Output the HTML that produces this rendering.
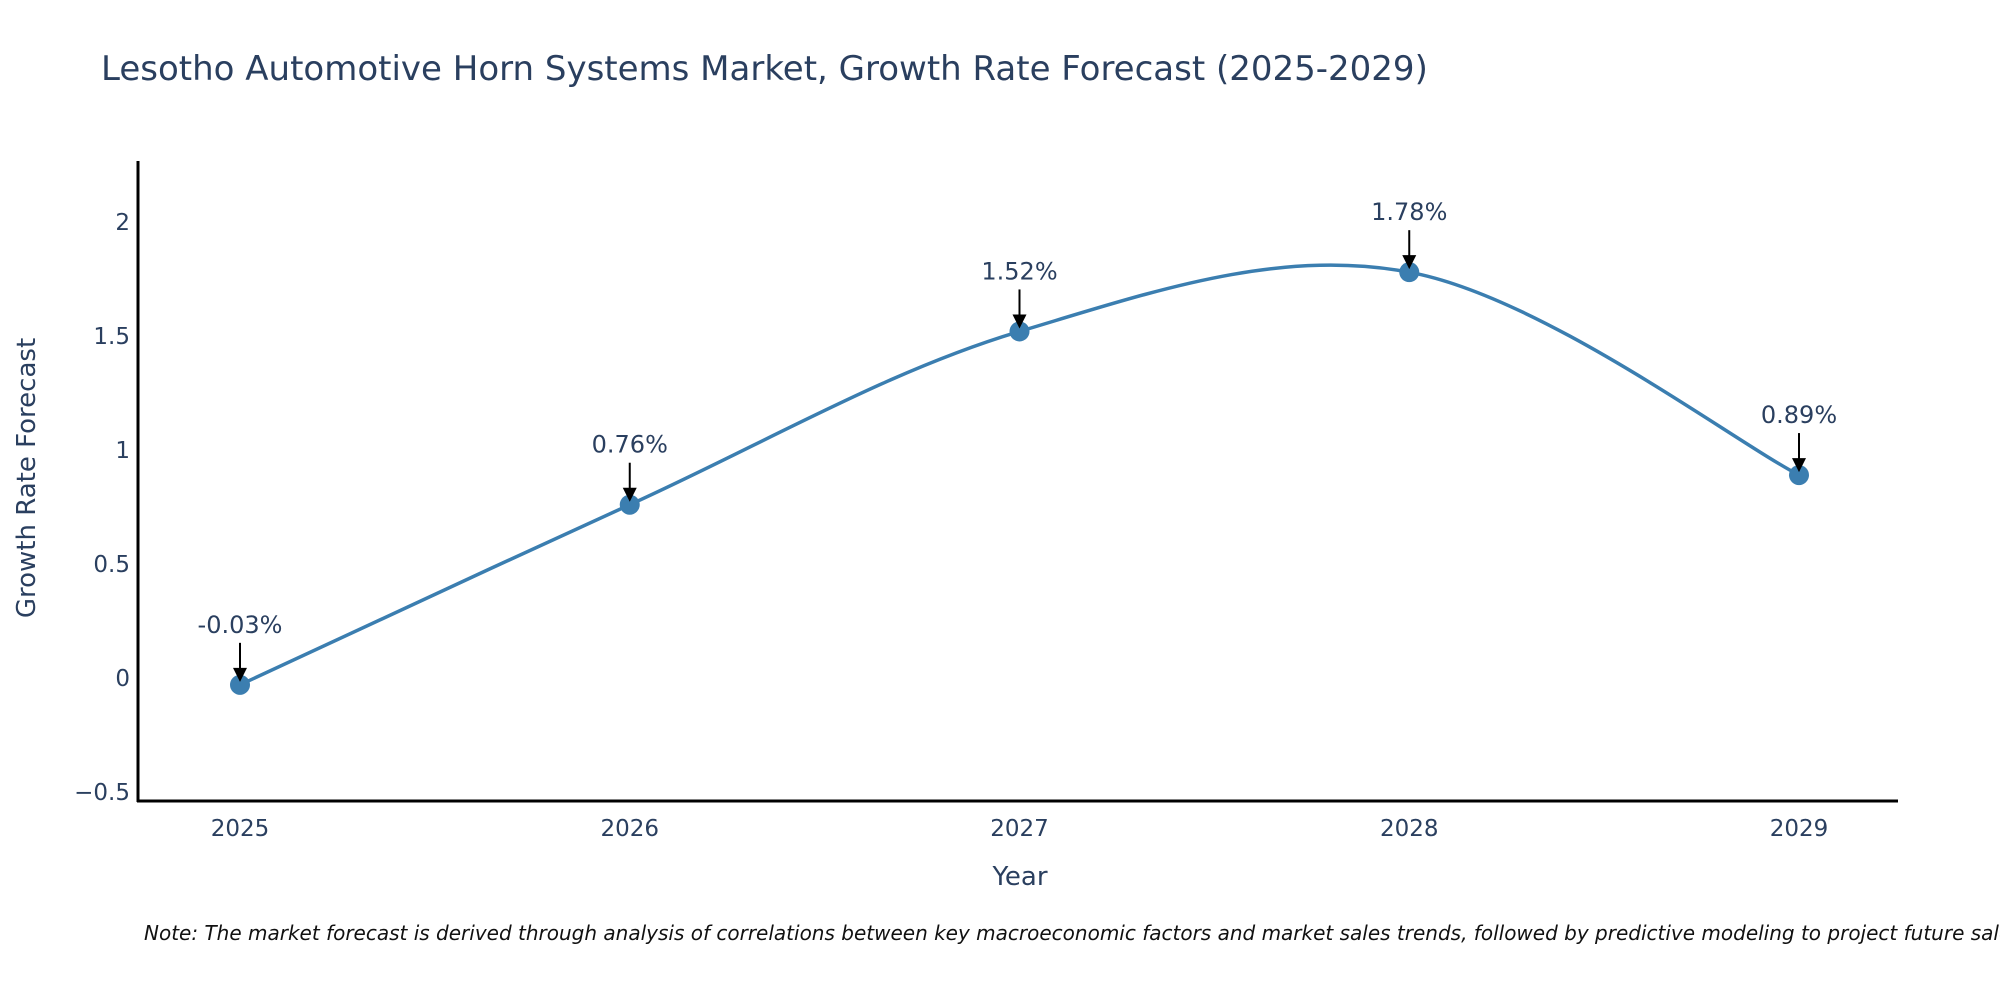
<!DOCTYPE html>
<html><head><meta charset="utf-8"><style>
body{margin:0;background:#fff;}
svg{display:block;font-family:"DejaVu Sans","Liberation Sans",sans-serif;}
</style></head><body>
<svg id="chart" width="2000" height="1000">
<text x="101" y="80" font-size="34" fill="#2a3f5f">Lesotho Automotive Horn Systems Market, Growth Rate Forecast (2025-2029)</text>
<g id="yticks"></g><g id="xticks"></g>
<path id="line" fill="none" stroke="#3b7eb0" stroke-width="3.5"/>
<g id="marks"></g>
<line x1="138" y1="161" x2="138" y2="802" stroke="#000" stroke-width="3"/>
<line x1="137" y1="801" x2="1898" y2="801" stroke="#000" stroke-width="3"/>
<text x="1020" y="885" font-size="26" fill="#2a3f5f" text-anchor="middle">Year</text>
<text transform="translate(35,478) rotate(-90)" font-size="26" fill="#2a3f5f" text-anchor="middle">Growth Rate Forecast</text>
<text x="144" y="940" font-size="20" font-style="italic" fill="#111">Note: The market forecast is derived through analysis of correlations between key macroeconomic factors and market sales trends, followed by predictive modeling to project future sales.</text>
</svg>
<script>
const years=[2025,2026,2027,2028,2029];
const values=[-0.03,0.76,1.52,1.78,0.89];
const labels=["-0.03%","0.76%","1.52%","1.78%","0.89%"];
const yTicks=[-0.5,0,0.5,1,1.5,2];
const yTickLabels=["\u22120.5","0","0.5","1","1.5","2"];
const NS="http://www.w3.org/2000/svg";
const xs=y=>240+(y-2025)*389.75;
const ys=v=>678-v*228;
function mk(t,a,p){const e=document.createElementNS(NS,t);for(const k in a)e.setAttribute(k,a[k]);p.appendChild(e);return e;}
const yt=document.getElementById('yticks');
yTicks.forEach((v,i)=>{const t=mk('text',{x:130,y:ys(v)+8,'font-size':23,fill:'#2a3f5f','text-anchor':'end'},yt);


t.textContent=yTickLabels[i];});
const xt=document.getElementById('xticks');
years.forEach(y=>{const t=mk('text',{x:xs(y),y:836,'font-size':23,fill:'#2a3f5f','text-anchor':'middle'},xt);


t.textContent=y;});
const P=years.map((y,i)=>[xs(y),ys(values[i])]);
let d='M'+P[0][0]+','+P[0][1];
for(let i=0;i<P.length-1;i++){const p0=P[i-1]||P[i],p1=P[i],p2=P[i+1],p3=P[i+2]||P[i+1];const s=0.17;
d+=` C${p1[0]+(p2[0]-p0[0])*s},${p1[1]+(p2[1]-p0[1])*s} ${p2[0]-(p3[0]-p1[0])*s},${p2[1]-(p3[1]-p1[1])*s} ${p2[0]},${p2[1]}`;}
document.getElementById('line').setAttribute('d',d);
const m=document.getElementById('marks');
P.forEach((p,i)=>{const c=mk('circle',{cx:p[0],cy:p[1],r:10,fill:'#3b7eb0'},m);


const l=mk('line',{x1:p[0],y1:p[1]-42,x2:p[0],y2:p[1]-14,stroke:'#000','stroke-width':2},m);


const a=mk('polygon',{points:`${p[0]-7},${p[1]-17} ${p[0]+7},${p[1]-17} ${p[0]},${p[1]-3}`,fill:'#000'},m);


const t=mk('text',{x:p[0],y:p[1]-52,'font-size':24,fill:'#2a3f5f','text-anchor':'middle'},m);


t.textContent=labels[i];});
</script>
</body></html>
